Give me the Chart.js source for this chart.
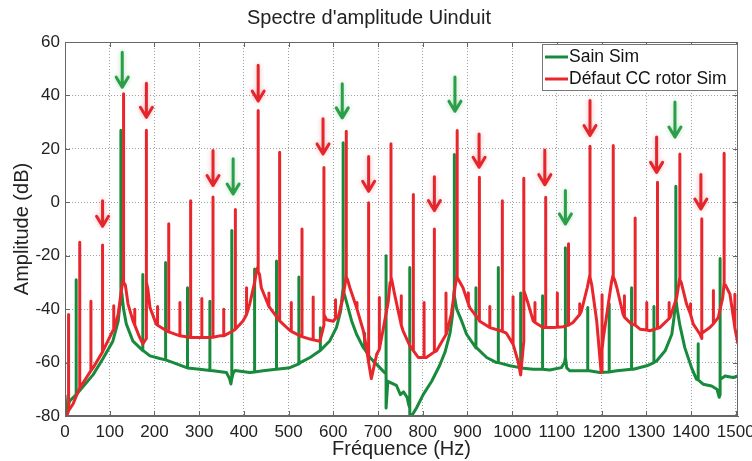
<!DOCTYPE html>
<html lang="fr">
<head>
<meta charset="UTF-8">
<title>Spectre d'amplitude Uinduit</title>
<script src="https://cdn.jsdelivr.net/npm/chart.js"></script>
<style>
  body { margin: 0; background: #fff; }
  #wrap { width: 752px; height: 461px; }
</style>
</head>
<body>
<div id="wrap"><canvas id="chart"></canvas></div>
<script>
// texts
const titre = "Spectre d'amplitude Uinduit";
const titreX = 'Fréquence (Hz)';
const titreY = 'Amplitude (dB)';
const noms = ['Sain Sim', 'Défaut CC rotor Sim'];
const xTicks = [0, 100, 200, 300, 400, 500, 600, 700, 800, 900, 1000, 1100, 1200, 1300, 1400, 1500];
const yTicks = [-80, -60, -40, -20, 0, 20, 40, 60];

// background curves [Hz, dB]
const sainFond = [
  [0,-72],[3,-79],[10,-74.5],[33,-70.5],[63,-64.5],[85,-58.5],[107,-52],[119,-44.5],[123,-38],
  [127,-34],[131,-40],[137,-45.5],[152,-52],[175,-55.5],[190,-57.5],[212,-58.5],[242,-60],[272,-61.9],
  [301,-62.5],[331,-63.1],[361,-63.7],[368,-66],[371,-68],[376,-64],[380,-63],[413,-63.7],[443,-63.1],
  [472,-62.5],[503,-61.9],[526,-60],[548,-58.1],[570,-55.6],[592,-51.9],[607,-46.9],[616,-41],[620,-35],
  [624,-34],[629,-37],[641,-44.4],[652,-49.4],[667,-54.4],[682,-58.1],[704,-61.9],[716,-64],
  [722,-67],[741,-68.5],[750,-72],[757,-71],[765,-73],[769,-76],[775,-80],[786,-77],[801,-72],
  [820,-67],[838,-61],[850,-56],[861,-49],[866,-43],[869,-37],[872,-35],[876,-40],[887,-44.4],
  [898,-49.4],[920,-54.4],[943,-58.1],[965,-60],[995,-61.2],[1017,-61.9],[1047,-62.5],[1084,-62.8],
  [1110,-61.9],[1117,-60],[1122,-62],[1129,-63.1],[1159,-63.1],[1196,-63.7],[1234,-63.1],[1271,-62.5],
  [1301,-61.2],[1323,-59.4],[1342,-55.6],[1357,-49.4],[1362,-43],[1369,-40],[1375,-46],[1386,-54.4],
  [1401,-61.9],[1412,-66.2],[1427,-68.1],[1446,-68.8],[1458,-70],[1463,-73],[1468,-66],[1476,-65],
  [1494,-65.6],[1505,-65]
];
const defautFond = [
  [0,-80],[4,-80],[18,-75.5],[33,-69.4],[63,-61.9],[85,-55.6],[107,-48.1],[119,-41.9],[126,-33],
  [135,-31],[141,-38.1],[152,-44.4],[167,-50.6],[174,-53],[185,-32],[190,-39.4],[204,-45.6],[227,-48.1],
  [257,-50],[286,-50.6],[316,-50.6],[346,-50],[376,-48.1],[398,-44.4],[413,-38.1],[424,-30],[429,-25],
  [435,-27],[439,-32],[458,-39.4],[480,-44.4],[503,-48],[526,-50],[548,-51.2],[570,-52],[576,-48],
  [585,-44],[600,-44.5],[611,-43],[620,-37],[626,-31],[632,-29],[637,-32],[652,-39.4],[667,-48],
  [674,-54.4],[685,-66],[697,-56.9],[711,-48],[715,-44.4],[723,-37],[727,-30],[732,-30],[737,-34.4],
  [745,-40.6],[756,-48.1],[771,-53.7],[790,-58.1],[808,-58.1],[831,-55.6],[853,-49.3],[864,-41.9],
  [872,-32],[880,-29],[890,-32],[905,-39.4],[928,-44.4],[950,-46.9],[972,-48],[987,-49],[1002,-53.1],
  [1013,-59.4],[1019,-64.6],[1030,-35],[1036,-38.1],[1047,-44.4],[1069,-46.9],[1092,-46.9],[1114,-46.6],
  [1136,-45],[1155,-40.6],[1168,-31.9],[1178,-31],[1189,-44.4],[1196,-58],[1199,-63.7],[1204,-50.6],
  [1215,-38.1],[1222,-30],[1229,-29],[1234,-31.9],[1248,-41.9],[1267,-45.6],[1286,-47.5],[1308,-48.1],
  [1330,-46.9],[1353,-43.1],[1368,-35.6],[1378,-30],[1390,-38.1],[1405,-45.6],[1420,-49.4],[1442,-46.9],
  [1461,-43.1],[1471,-35.6],[1477,-31],[1487,-34.4],[1498,-46.9],[1505,-53]
];

// spectral lines [Hz, top dB, foot dB, right foot dB (optional)]
const sainRaies = [
  [25,-29,-72],[125,27,-32,-33],[174,-27,-55.5],[225,-22.5,-59],[274,-32,-62],[324,-37,-63],
  [373,-10.6,-66],[424,-25,-63.5],[473,-22,-62.5],[523,-28,-60.5],[571,-47,-55.5],[622,22.3,-32],
  [670,-49,-55],[718,-20,-64,-77],[771,-24.4,-77,-80],[870,17.9,-33],[919,-32,-54.5],[969,-24.4,-60],
  [1019,-34,-62],[1068,-35,-62.5],[1119,-17,-58],[1169,-39.4,-63],[1217,-38,-63.5],[1267,-32,-62.5],
  [1317,-39,-60],[1366,6,-36],[1416,-53,-66.5],[1465,-21,-72,-66]
];
const defautRaies = [
  [8,-42,-78],[33,-15,-69.5],[58,-37,-63],[84,-16,-56],[109,-38.7,-48],[131,40.6,-28,-30],
  [156,-40,-46],[182,27,-51,-30],[207,-39,-46],[232,-8,-48.5],[257,-37.5,-50],[281,0.6,-50.6],
  [306,-36,-50.6],[331,2,-50.5],[355,-40,-50],[381,-2.7,-47.5],[406,-32,-42],[432,34.4,-24,-26],
  [456,-34,-39],[480,18.7,-44.4],[506,-37.5,-48.3],[530,-10,-50.3],[555,-35.5,-51.5],[579,13,-46,-42],
  [605,-36.5,-43.5],[629,26.6,-27,-28],[653,-37.5,-40],[679,-0.2,-60],[703,-35.6,-55],[729,21.9,-27,-28],
  [752,-35,-46],[779,2.9,-55.5],[803,-37.5,-58.1],[826,-10,-56],[852,-34,-49.5],[877,26.9,-27,-28],
  [902,-34,-38],[926,9.4,-44],[950,-39,-46.9],[978,0.6,-48.3],[1002,-35.4,-53.1],[1026,9,-52,-33],
  [1051,-37.5,-45],[1075,1.9,-46.9],[1101,-34,-46.8],[1126,-15.5,-46],[1151,-38,-42],[1174,21,-27,-28],
  [1201,-34.6,-63,-55],[1226,21.3,-27,-28],[1251,-35,-43],[1275,-5.9,-46],[1301,-37.5,-47.8],
  [1325,7.5,-47.2],[1351,-37.5,-43.5],[1375,18.1,-28,-29],[1399,-38,-42],[1424,-6.2,-51,-49],
  [1450,-33,-45.5],[1474,18.4,-30,-31],[1498,-34.4,-47]
];

// arrows [Hz, tail dB, tip dB]
const flechesVertes = [[128,56.2,43.1],[376,16.3,3.1],[620,44.4,31.6],[872,46.9,34.1],[1119,4.4,-8.1],[1364,37.5,24.4]];
const flechesRouges = [
  [84,0.6,-9],[182,44.6,31.8],[331,19.4,6.3],[432,51.3,37.9],[577,31.3,18.1],[679,17.1,4.1],
  [826,9.6,-3.1],[926,25.6,13.1],[1073,19.6,6.6],[1174,38.1,25],[1323,24.4,11.2],[1422,10.4,-2.5]
];

const VERT = '#178a3c';
const ROUGE = '#e8262b';
const POLICE = "'Liberation Sans', Arial, sans-serif";
Chart.defaults.font.family = POLICE;
Chart.defaults.color = '#222';

// merge background curve and vertical lines into one polyline
function trace(fond, raies) {
  const pts = fond.map(([x, y]) => ({x, y, k: 0}));
  raies.forEach(([x, top, pied, piedD]) => {
    pts.push({x, y: pied, k: 1}, {x, y: top, k: 2}, {x, y: piedD ?? pied, k: 3});
  });
  pts.sort((a, b) => a.x - b.x || a.k - b.k);
  return pts.map(({x, y}) => ({x, y}));
}

function fleche(ctx, x, y1, y2, color, halo) {
  ctx.save();
  ctx.strokeStyle = color;
  ctx.lineWidth = 3;
  ctx.lineCap = 'round';
  ctx.lineJoin = 'round';
  ctx.shadowColor = halo;
  ctx.shadowBlur = 5;
  ctx.beginPath();
  ctx.moveTo(x, y1); ctx.lineTo(x, y2);
  ctx.moveTo(x - 6, y2 - 10); ctx.lineTo(x, y2); ctx.lineTo(x + 6, y2 - 10);
  ctx.stroke();
  ctx.restore();
}

const habillage = {
  id: 'habillage',
  afterDatasetsDraw(chart) {
    const {ctx, scales: {x, y}} = chart;
    flechesVertes.forEach(([f, q, p]) => fleche(ctx, x.getPixelForValue(f), y.getPixelForValue(q), y.getPixelForValue(p), '#2b9e48', 'rgba(43,158,72,0.35)'));
    flechesRouges.forEach(([f, q, p]) => fleche(ctx, x.getPixelForValue(f), y.getPixelForValue(q), y.getPixelForValue(p), '#e2262b', 'rgba(226,38,43,0.35)'));
  },
  afterDraw(chart) {
    const {ctx, chartArea: a, scales: {x, y}} = chart;
    ctx.save();
    // axes box and inner ticks
    ctx.strokeStyle = '#666';
    ctx.lineWidth = 1;
    ctx.strokeRect(a.left + 0.5, a.top + 0.5, a.right - a.left - 1, a.bottom - a.top - 1);
    ctx.beginPath();
    x.ticks.forEach(t => {
      const px = Math.round(x.getPixelForValue(t.value)) + 0.5;
      ctx.moveTo(px, a.bottom); ctx.lineTo(px, a.bottom - 5);
      ctx.moveTo(px, a.top); ctx.lineTo(px, a.top + 5);
    });
    y.ticks.forEach(t => {
      const py = Math.round(y.getPixelForValue(t.value)) + 0.5;
      ctx.moveTo(a.left, py); ctx.lineTo(a.left + 5, py);
      ctx.moveTo(a.right, py); ctx.lineTo(a.right - 5, py);
    });
    ctx.stroke();
    // legend
    const lw = 196, lh = 47, lx = a.right - lw, ly = a.top + 2;
    ctx.fillStyle = '#fff';
    ctx.fillRect(lx, ly, lw, lh);
    ctx.strokeStyle = '#777';
    ctx.strokeRect(lx + 0.5, ly + 0.5, lw - 1, lh - 1);
    [VERT, ROUGE].forEach((c, i) => {
      const yy = ly + 13 + i * 22;
      ctx.strokeStyle = c;
      ctx.lineWidth = 3;
      ctx.beginPath(); ctx.moveTo(lx + 3, yy); ctx.lineTo(lx + 26, yy); ctx.stroke();
      ctx.fillStyle = '#111';
      ctx.font = '17.5px ' + POLICE;
      ctx.textBaseline = 'middle';
      ctx.fillText(noms[i], lx + 27, yy);
    });
    ctx.restore();
  }
};

const grille = {color: 'rgba(120,120,120,0.7)', lineWidth: 1, drawTicks: false};
const bord = {color: '#666', dash: [1, 2]};

new Chart(document.getElementById('chart'), {
  type: 'line',
  data: {
    datasets: [
      {label: noms[0], data: trace(sainFond, sainRaies), borderColor: VERT, borderWidth: 3, pointRadius: 0, order: 2, tension: 0, borderJoinStyle: 'round'},
      {label: noms[1], data: trace(defautFond, defautRaies), borderColor: ROUGE, borderWidth: 3, pointRadius: 0, order: 1, tension: 0, borderJoinStyle: 'round'}
    ]
  },
  options: {
    responsive: true,
    maintainAspectRatio: false,
    animation: false,
    layout: {padding: {left: 0, right: 14, top: 0, bottom: 0}},
    plugins: {
      legend: {display: false},
      tooltip: {enabled: false},
      title: {display: true, text: titre, font: {size: 20, weight: 'normal'}, color: '#222', padding: {top: 6, bottom: 12}}
    },
    scales: {
      x: {
        type: 'linear', min: 0, max: 1505,
        ticks: {padding: 6, font: {size: 17}, color: '#222', maxRotation: 0, autoSkip: false, callback: v => String(v)},
        afterBuildTicks: s => { s.ticks = xTicks.map(v => ({value: v})); },
        grid: grille, border: bord,
        title: {display: true, text: titreX, font: {size: 20}, color: '#222', padding: {top: 0, bottom: 0}},
        afterFit: s => { s.height = 45; s.paddingLeft = 0; s.paddingRight = 0; }
      },
      y: {
        min: -80, max: 60,
        ticks: {padding: 5, font: {size: 17}, color: '#222', callback: v => String(v)},
        afterBuildTicks: s => { s.ticks = yTicks.map(v => ({value: v})); },
        grid: grille, border: bord,
        title: {display: true, text: titreY, font: {size: 20}, color: '#222', padding: {top: 10, bottom: 0}},
        afterFit: s => { s.width = 65; s.paddingTop = 0; s.paddingBottom = 0; }
      }
    }
  },
  plugins: [habillage]
});
</script>
</body>
</html>
